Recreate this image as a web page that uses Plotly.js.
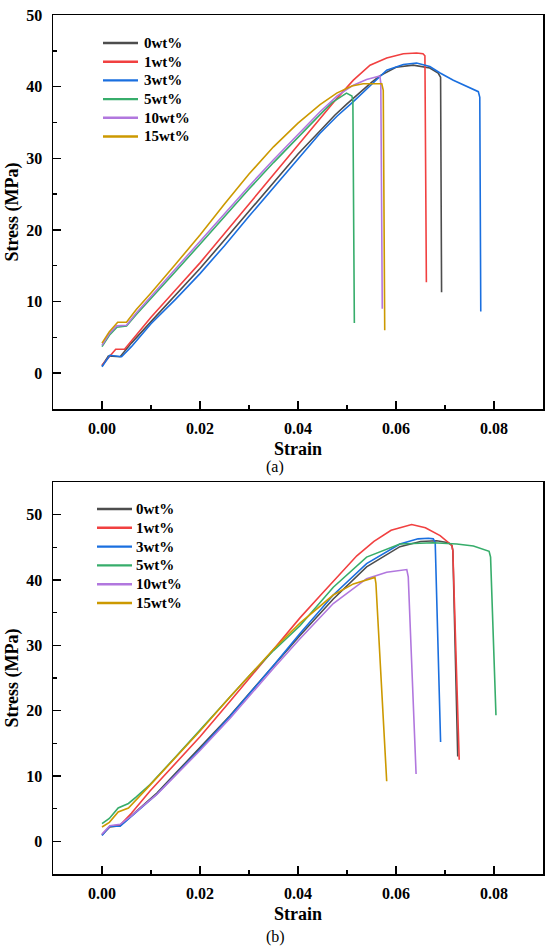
<!DOCTYPE html>
<html><head><meta charset="utf-8">
<script src="https://cdn.plot.ly/plotly-3.0.1.min.js"></script>
<style>html,body{margin:0;padding:0;background:#fff}#chart{width:550px;height:952px}</style>
</head><body><div id="chart"></div>
<script>
// ---- Data: panel (a) ----
const a0x = [0, 0.0013, 0.0037, 0.006, 0.01, 0.015, 0.02, 0.025, 0.03, 0.035, 0.04, 0.045, 0.0475, 0.05, 0.0513, 0.055, 0.0567, 0.06, 0.0635, 0.0669, 0.0686, 0.0691, 0.0693];
const a0y = [1.0, 2.4, 2.3, 4.2, 7.2, 10.9, 14.6, 18.6, 22.6, 26.6, 30.6, 34.2, 36.0, 37.6, 38.4, 40.6, 41.5, 42.7, 43.0, 42.6, 41.9, 41.3, 11.3];
const a1x = [0, 0.0028, 0.0046, 0.007, 0.01, 0.015, 0.02, 0.025, 0.03, 0.035, 0.04, 0.0445, 0.048, 0.0513, 0.0547, 0.0581, 0.0615, 0.0642, 0.0655, 0.0659, 0.0662];
const a1y = [1.1, 3.35, 3.35, 5.4, 7.8, 11.6, 15.4, 19.5, 23.6, 27.7, 31.8, 35.6, 38.4, 40.9, 43.0, 44.0, 44.6, 44.7, 44.6, 44.3, 12.7];
const a3x = [0, 0.0016, 0.004, 0.006, 0.01, 0.015, 0.02, 0.025, 0.03, 0.035, 0.04, 0.0445, 0.048, 0.0513, 0.055, 0.0581, 0.0615, 0.0642, 0.0669, 0.069, 0.0717, 0.0744, 0.0768, 0.0771, 0.0773];
const a3y = [0.9, 2.5, 2.3, 3.7, 6.9, 10.3, 13.9, 17.8, 21.9, 25.9, 29.9, 33.5, 35.9, 37.9, 40.3, 42.3, 43.1, 43.3, 42.8, 41.9, 40.9, 40.1, 39.3, 38.5, 8.6];
const a5x = [0, 0.0015, 0.003, 0.005, 0.007, 0.01, 0.015, 0.02, 0.025, 0.03, 0.035, 0.04, 0.0445, 0.047, 0.0499, 0.051, 0.0512, 0.0515];
const a5y = [3.7, 5.3, 6.4, 6.6, 8.2, 10.4, 14.2, 18.0, 21.9, 25.7, 29.4, 33.0, 36.1, 37.8, 39.1, 38.7, 38.0, 7.0];
const a10x = [0, 0.0015, 0.003, 0.005, 0.007, 0.01, 0.015, 0.02, 0.025, 0.03, 0.035, 0.04, 0.0445, 0.048, 0.0513, 0.054, 0.0567, 0.0569, 0.0572];
const a10y = [3.9, 5.5, 6.6, 6.7, 8.4, 10.7, 14.5, 18.4, 22.3, 26.1, 29.8, 33.4, 36.5, 38.7, 40.2, 41.0, 41.5, 40.5, 9.0];
const a15x = [0, 0.0015, 0.0032, 0.005, 0.007, 0.01, 0.015, 0.02, 0.025, 0.03, 0.035, 0.04, 0.0445, 0.0479, 0.051, 0.0533, 0.0571, 0.0574, 0.0577];
const a15y = [4.2, 5.8, 7.1, 7.1, 8.9, 11.2, 15.2, 19.3, 23.6, 27.8, 31.6, 34.9, 37.5, 39.1, 40.1, 40.4, 40.4, 39.5, 6.0];

// ---- Data: panel (b) ----
const b0x = [0, 0.0016, 0.0037, 0.006, 0.008, 0.0112, 0.015, 0.02, 0.0261, 0.03, 0.035, 0.0404, 0.0472, 0.054, 0.0608, 0.065, 0.0683, 0.0707, 0.0714, 0.0716, 0.0726];
const b0y = [1.0, 2.2, 2.4, 3.9, 5.3, 7.4, 10.4, 14.3, 19.2, 22.6, 26.9, 31.5, 37.1, 42.0, 45.1, 45.9, 46.0, 45.7, 45.3, 44.5, 13.0];
const b1x = [0, 0.0016, 0.0037, 0.006, 0.0098, 0.015, 0.02, 0.0261, 0.03, 0.035, 0.0404, 0.0445, 0.0485, 0.052, 0.0555, 0.059, 0.0632, 0.066, 0.069, 0.0714, 0.0716, 0.0729];
const b1y = [1.0, 2.3, 2.5, 4.3, 7.7, 12.0, 16.0, 21.4, 24.9, 29.5, 34.2, 37.6, 40.9, 43.7, 45.9, 47.6, 48.5, 48.0, 46.8, 45.3, 44.5, 12.5];
const b3x = [0, 0.0016, 0.0037, 0.006, 0.008, 0.0112, 0.015, 0.02, 0.0261, 0.03, 0.035, 0.0404, 0.0472, 0.054, 0.0608, 0.0645, 0.0666, 0.0676, 0.068, 0.0691];
const b3y = [0.9, 2.3, 2.3, 3.8, 5.2, 7.2, 10.2, 14.1, 19.1, 22.5, 26.9, 31.8, 37.7, 42.5, 45.5, 46.3, 46.4, 46.3, 45.8, 15.2];
const b5x = [0, 0.0015, 0.0033, 0.0054, 0.007, 0.0098, 0.015, 0.02, 0.0261, 0.03, 0.035, 0.0404, 0.0472, 0.054, 0.0608, 0.0676, 0.0724, 0.0758, 0.079, 0.0793, 0.0804];
const b5y = [2.7, 3.5, 5.1, 5.8, 6.8, 8.7, 12.9, 17.0, 22.1, 25.3, 29.2, 33.0, 38.9, 43.5, 45.5, 45.7, 45.5, 45.2, 44.4, 43.5, 19.3];
const b10x = [0, 0.0016, 0.0037, 0.006, 0.008, 0.0112, 0.015, 0.02, 0.0261, 0.03, 0.035, 0.0404, 0.0472, 0.054, 0.0581, 0.0622, 0.0625, 0.0641];
const b10y = [1.1, 2.4, 2.6, 3.9, 5.2, 7.2, 10.1, 13.9, 18.8, 22.2, 26.5, 31.0, 36.4, 40.2, 41.2, 41.6, 40.5, 10.3];
const b15x = [0, 0.0015, 0.0033, 0.0054, 0.0098, 0.015, 0.02, 0.0261, 0.03, 0.035, 0.0404, 0.0472, 0.0513, 0.0557, 0.0559, 0.0581];
const b15y = [2.2, 2.9, 4.5, 5.1, 8.6, 12.8, 16.9, 22.1, 25.3, 29.4, 33.4, 37.7, 39.4, 40.4, 39.5, 9.2];

const seriesNames = ['0wt%', '1wt%', '3wt%', '5wt%', '10wt%', '15wt%'];
const seriesColors = ['#4d4d4d', '#F14040', '#1A6FDF', '#37AD6B', '#B177DE', '#CC9900'];
const panelLabels = ['(a)', '(b)'];
const xTitle = 'Strain';
const yTitle = 'Stress (MPa)';

const panelA = [[a0x, a0y], [a1x, a1y], [a3x, a3y], [a5x, a5y], [a10x, a10y], [a15x, a15y]];
const panelB = [[b0x, b0y], [b1x, b1y], [b3x, b3y], [b5x, b5y], [b10x, b10y], [b15x, b15y]];

const W = 550, H = 952;
const FONT = 'Liberation Serif';

const traces = [];
[[panelA, 'x', 'y'], [panelB, 'x2', 'y2']].forEach(([panel, xa, ya]) => {
  panel.forEach((s, i) => {
    traces.push({
      type: 'scatter', mode: 'lines', x: s[0], y: s[1], xaxis: xa, yaxis: ya,
      name: seriesNames[i], showlegend: false,
      line: {color: seriesColors[i], width: 1.6}
    });
  });
});

function xAxis() {
  return {
    domain: [53 / W, 543 / W], range: [-0.01, 0.09], dtick: 0.02, tick0: 0, tickformat: '.2f',
    showline: true, mirror: true, linecolor: '#000', linewidth: 1.5,
    ticks: 'inside', ticklen: 8, tickwidth: 1.5, tickcolor: '#000',
    minor: {ticks: 'inside', ticklen: 4, tickwidth: 1.5, tickcolor: '#000', dtick: 0.01},
    showgrid: false, zeroline: false,
    tickfont: {family: FONT, size: 16, weight: 'bold', color: '#000'},
    ticklabelstandoff: 4,
    title: {text: xTitle, font: {family: FONT, size: 18, weight: 'bold', color: '#000'}, standoff: 6}
  };
}
function yAxis(domain, range, anchor) {
  return {
    domain: domain, range: range, dtick: 10, tick0: 0, anchor: anchor,
    showline: true, mirror: true, linecolor: '#000', linewidth: 1.5,
    ticks: 'inside', ticklen: 8, tickwidth: 1.5, tickcolor: '#000',
    minor: {ticks: 'inside', ticklen: 4, tickwidth: 1.5, tickcolor: '#000', dtick: 5},
    showgrid: false, zeroline: false,
    tickfont: {family: FONT, size: 16, weight: 'bold', color: '#000'},
    ticklabelstandoff: 6,
    title: {text: yTitle, font: {family: FONT, size: 18, weight: 'bold', color: '#000'}, standoff: 3}
  };
}

const shapes = [];
const annotations = [];
const legendGeom = [
  {x0: 103, x1: 138, tx: 142, y0: 43, dy: 18.7},
  {x0: 97, x1: 132, tx: 134, y0: 509, dy: 18.8}
];
legendGeom.forEach(g => {
  seriesNames.forEach((n, i) => {
    const yp = 1 - (g.y0 + i * g.dy) / H;
    shapes.push({type: 'line', xref: 'paper', yref: 'paper', x0: g.x0 / W, x1: g.x1 / W, y0: yp, y1: yp,
      line: {color: seriesColors[i], width: 2.4}});
    annotations.push({xref: 'paper', yref: 'paper', x: g.tx / W, y: yp, xanchor: 'left', yanchor: 'middle',
      text: n, showarrow: false, font: {family: FONT, size: 15, weight: 'bold', color: '#000'}});
  });
});
const captionY = [467, 937];
panelLabels.forEach((t, i) => {
  annotations.push({xref: 'paper', yref: 'paper', x: 0.5, y: 1 - captionY[i] / H, xanchor: 'center', yanchor: 'middle',
    text: t, showarrow: false, font: {family: FONT, size: 16, color: '#000'}});
});

const layout = {
  width: W, height: H, margin: {l: 0, r: 0, t: 0, b: 0},
  paper_bgcolor: '#fff', plot_bgcolor: '#fff', showlegend: false,
  font: {family: FONT, color: '#000'},
  xaxis: Object.assign(xAxis(), {anchor: 'y'}),
  yaxis: yAxis([1 - 409 / H, 1 - 15 / H], [-5, 50], 'x'),
  xaxis2: Object.assign(xAxis(), {anchor: 'y2'}),
  yaxis2: yAxis([1 - 874 / H, 1 - 482 / H], [-5, 55], 'x2'),
  shapes: shapes, annotations: annotations
};

Plotly.newPlot('chart', traces, layout, {staticPlot: true, displayModeBar: false});
</script></body></html>
